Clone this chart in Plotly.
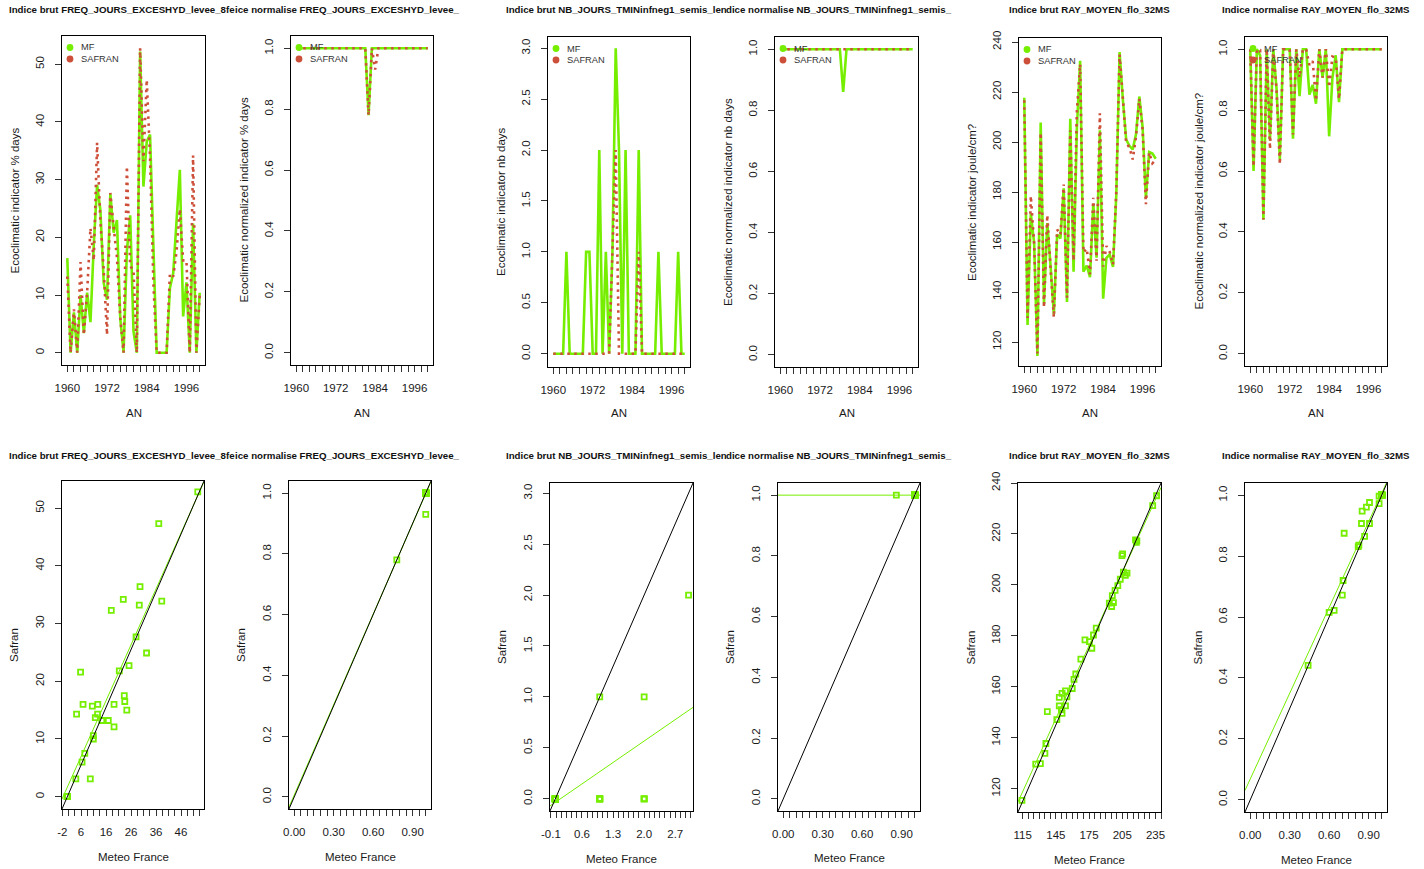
import numpy as np
import plotly.graph_objects as go

W, H = 1424, 869
FONT = "Liberation Sans, Arial, sans-serif"
GREEN = "#76EE00"
RED = "#CD4F39"
INK = "#1a1a1a"

years = list(range(1960, 2001))

freq_mf = [16.4, 0, 7.0, 0, 10.0, 3.4, 10.4, 5.3, 18.7, 29.1,
           24.7, 12.1, 9.2, 27.5, 20.8, 23.0, 5.9, 0, 17.6, 23.8,
           3.7, 0, 52.2, 28.8, 36.6, 37.8, 18.7, 0, 0, 0,
           0, 11.2, 13.8, 22.8, 31.7, 6.3, 12.2, 0, 22.4, 0, 10.4]
freq_safran = [13.2, 0, 7.5, 0, 15.7, 3.1, 10.6, 21.6, 16.0, 36.4,
               22.7, 14.3, 3.1, 27.7, 21.8, 16.5, 6.0, 0, 32.3, 15.0,
               14.3, 0, 52.8, 33.2, 47.3, 33.9, 12.1, 0, 0, 0,
               0, 13.7, 13.2, 17.5, 24.9, 16.0, 16.0, 0, 34.2, 0, 10.0]
freq_norm_mf = [1.0] * 22 + [0.78] + [1.0] * 18
freq_norm_safran = [1.0] * 22 + [0.78, 1.0, 0.93] + [1.0] * 16

nb_mf = [0, 0, 0, 0, 1, 0, 0, 0, 0, 0,
         1, 1, 0, 0, 2, 0, 1, 0, 1, 3,
         2, 0, 2, 0, 0, 0, 2, 0, 0, 0,
         0, 0, 1, 0, 0, 0, 0, 0, 1, 0, 0]
nb_safran = [0, 0, 0, 0, 0, 0, 0, 0, 0, 0,
             0, 0, 0, 0, 0, 0, 0, 0, 1, 2,
             0, 0, 0, 0, 0, 0, 1, 0, 0, 0,
             0, 0, 0, 0, 0, 0, 0, 0, 0, 0, 0]
nb_norm_mf = [1.0] * 19 + [0.86] + [1.0] * 21
nb_norm_safran = [1.0] * 41

ray_mf = [217.7, 126.8, 171.3, 159.8, 114.4, 207.8, 135.1, 167.6, 150.6, 131.0,
          163.0, 161.4, 181.5, 136.0, 209.3, 148.1, 205.3, 232.5, 148.1, 150.6,
          145.9, 175.3, 153.7, 204.7, 137.3, 153.7, 155.0, 150.0, 179.0, 236.0,
          217.0, 201.0, 198.5, 197.0, 203.2, 218.2, 206.0, 177.5, 196.0, 195.4, 193.3]
ray_safran = [216.7, 129.6, 178.4, 159.3, 115.4, 203.7, 133.8, 170.8, 149.5, 129.8,
              165.0, 162.9, 183.0, 137.7, 204.6, 152.5, 212.2, 231.1, 155.8, 157.4,
              147.1, 177.7, 152.5, 211.5, 150.2, 158.4, 156.0, 151.0, 180.3, 235.0,
              217.7, 199.7, 197.8, 193.0, 202.2, 217.3, 205.0, 175.1, 195.8, 191.5, 192.8]
ray_norm_mf = [1.0, 0.60, 1.0, 0.98, 0.44, 1.0, 0.70, 1.0, 0.87, 0.638,
               1.0, 1.0, 1.0, 0.706, 1.0, 0.846, 1.0, 1.0, 0.851, 0.883,
               0.821, 1.0, 0.907, 1.0, 0.714, 0.907, 0.98, 0.826] + [1.0] * 13
ray_norm_safran = [1.0, 0.615, 1.0, 0.997, 0.441, 1.0, 0.672, 1.0, 0.865, 0.622,
                   1.0, 1.0, 1.0, 0.72, 1.0, 0.907, 1.0, 1.0, 0.948, 0.961,
                   0.831, 1.0, 0.907, 1.0, 0.875, 0.976, 0.972, 0.836] + [1.0] * 13

boxes = {
    1: (62, 205, 36, 365), 2: (291, 433, 36, 365), 3: (548, 690, 37, 367),
    4: (775, 918, 37, 367), 5: (1019, 1161, 38, 366), 6: (1245, 1387, 37, 366),
    7: (62, 204, 481, 809), 8: (289, 431, 481, 809), 9: (550, 693, 483, 811),
    10: (778, 920, 483, 811), 11: (1018, 1161, 483, 812), 12: (1245, 1387, 483, 812),
}


def px(x):
    return x / W


def py(y):
    return 1 - y / H


def fmt_ticks(vals, nd):
    return [f"{v:.{nd}f}" for v in vals]


norm_ticks = [0, 0.2, 0.4, 0.6, 0.8, 1.0]
top = [
    dict(mf=freq_mf, sf=freq_safran, yr=[-2.13, 54.9], yt=[0, 10, 20, 30, 40, 50], nd=0,
         yt_title="Ecoclimatic indicator % days"),
    dict(mf=freq_norm_mf, sf=freq_norm_safran, yr=[-0.04, 1.04], yt=norm_ticks, nd=1,
         yt_title="Ecoclimatic normalized indicator % days"),
    dict(mf=nb_mf, sf=nb_safran, yr=[-0.13, 3.11], yt=[0, 0.5, 1, 1.5, 2, 2.5, 3], nd=1,
         yt_title="Ecoclimatic indicator nb days"),
    dict(mf=nb_norm_mf, sf=nb_norm_safran, yr=[-0.04, 1.04], yt=norm_ticks, nd=1,
         yt_title="Ecoclimatic normalized indicator nb days"),
    dict(mf=ray_mf, sf=ray_safran, yr=[110.4, 241.6], yt=[120, 140, 160, 180, 200, 220, 240], nd=0,
         yt_title="Ecoclimatic indicator joule/cm?"),
    dict(mf=ray_norm_mf, sf=ray_norm_safran, yr=[-0.04, 1.04], yt=norm_ticks, nd=1,
         yt_title="Ecoclimatic normalized indicator joule/cm?"),
]

x_norm_vals = [0.05 * i for i in range(21)]
x_norm_txt = ["0.00" if i == 0 else "0.30" if i == 6 else "0.60" if i == 12 else "0.90" if i == 18 else ""
              for i in range(21)]
bottom = [
    dict(rng=[-2.13, 54.7], xv=[-2 + 2.5 * i for i in range(23)],
         xt=[{0: "-2", 3: "6", 7: "16", 11: "26", 15: "36", 19: "46"}.get(i, "") for i in range(23)],
         yt=[0, 10, 20, 30, 40, 50], nd=0),
    dict(rng=[-0.04, 1.04], xv=x_norm_vals, xt=x_norm_txt, yt=norm_ticks, nd=1),
    dict(rng=[-0.12, 3.1], xv=[-0.1 + 0.7 / 6 * i for i in range(28)],
         xt=[{0: "-0.1", 6: "0.6", 12: "1.3", 18: "2.0", 24: "2.7"}.get(i, "") for i in range(28)],
         yt=[0, 0.5, 1, 1.5, 2, 2.5, 3], nd=1),
    dict(rng=[-0.04, 1.04], xv=x_norm_vals, xt=x_norm_txt, yt=norm_ticks, nd=1),
    dict(rng=[110.8, 240.0], xv=list(range(115, 241, 5)),
         xt=[str(v) if v in (115, 145, 175, 205, 235) else "" for v in range(115, 241, 5)],
         yt=[120, 140, 160, 180, 200, 220, 240], nd=0),
    dict(rng=[-0.04, 1.04], xv=x_norm_vals, xt=x_norm_txt, yt=norm_ticks, nd=1),
]

fig = go.Figure()
layout = dict(width=W, height=H, autosize=False,
              margin=dict(l=0, r=0, t=0, b=0, pad=0, autoexpand=False),
              paper_bgcolor="white", plot_bgcolor="white", showlegend=False,
              font=dict(family=FONT, color=INK))
annotations = []
shapes = []

axis_common = dict(showline=True, linecolor="#000", linewidth=1, mirror=True,
                   ticks="outside", ticklen=6, tickwidth=1, tickcolor="#333",
                   showgrid=False, zeroline=False, fixedrange=True, automargin=False,
                   tickfont=dict(family=FONT, size=11.5, color=INK),
                   ticklabelstandoff=6)


def add_axes(i, xr, xv, xt, yr, yv, ytxt):
    l, r, t, b = boxes[i]
    sx = "" if i == 1 else str(i)
    layout["xaxis" + sx] = dict(axis_common, domain=[px(l), px(r)], range=xr, anchor="y" + sx,
                                tickmode="array", tickvals=xv, ticktext=xt)
    layout["yaxis" + sx] = dict(axis_common, domain=[py(b), py(t)], range=yr, anchor="x" + sx,
                                tickmode="array", tickvals=yv, ticktext=ytxt, tickangle=-90)


year_ticks = list(range(1960, 2001, 2))
year_txt = [str(y) if (y - 1960) % 12 == 0 else "" for y in year_ticks]
for k, p in enumerate(top):
    i = k + 1
    sx = "" if i == 1 else str(i)
    add_axes(i, [1958.4, 2001.6], year_ticks, year_txt, p["yr"], p["yt"], fmt_ticks(p["yt"], p["nd"]))
    fig.add_trace(go.Scatter(x=years, y=p["mf"], mode="lines", name="MF",
                             line=dict(color=GREEN, width=2.6), xaxis="x" + sx, yaxis="y" + sx))
    fig.add_trace(go.Scatter(x=years, y=p["sf"], mode="lines", name="SAFRAN",
                             line=dict(color=RED, width=2.6, dash="2.5px,4.5px"),
                             xaxis="x" + sx, yaxis="y" + sx))
    l, r, t, b = boxes[i]
    for j, (lab, col) in enumerate([("MF", GREEN), ("SAFRAN", RED)]):
        cx, cy = l + 8, t + 11.5 + 11.5 * j
        rad = 3.4
        shapes.append(dict(type="circle", xref="paper", yref="paper",
                           x0=px(cx - rad), x1=px(cx + rad), y0=py(cy + rad), y1=py(cy - rad),
                           fillcolor=col, line=dict(color=col, width=0)))
        annotations.append(dict(x=px(l + 16.5), y=py(cy), xref="paper", yref="paper",
                                text=lab, showarrow=False, xanchor="left", yanchor="middle",
                                font=dict(family=FONT, size=9.3, color="#333")))
    annotations.append(dict(x=px((l + r) / 2), y=py(413.3), xref="paper", yref="paper", text="AN",
                            showarrow=False, xanchor="center", yanchor="middle",
                            font=dict(family=FONT, size=11.5, color=INK)))
    annotations.append(dict(x=px(l - 47), y=py((t + b) / 2), xref="paper", yref="paper",
                            text=p["yt_title"], showarrow=False, textangle=-90,
                            xanchor="center", yanchor="middle",
                            font=dict(family=FONT, size=11.5, color=INK)))

pairs = [(freq_mf, freq_safran), (freq_norm_mf, freq_norm_safran), (nb_mf, nb_safran),
         (nb_norm_mf, nb_norm_safran), (ray_mf, ray_safran), (ray_norm_mf, ray_norm_safran)]
xt_y = {7: 856.7, 8: 856.7, 9: 859.3, 10: 858.3, 11: 860, 12: 860}
for k, (p, (mf, sf)) in enumerate(zip(bottom, pairs)):
    i = k + 7
    sx = str(i)
    add_axes(i, p["rng"], p["xv"], p["xt"], p["rng"], p["yt"], fmt_ticks(p["yt"], p["nd"]))
    fig.add_trace(go.Scatter(x=mf, y=sf, mode="markers",
                             marker=dict(symbol="square-open", size=5, color=GREEN,
                                         line=dict(color=GREEN, width=1.8)),
                             xaxis="x" + sx, yaxis="y" + sx))
    slope, icpt = np.polyfit(np.array(mf, float), np.array(sf, float), 1)
    xr = np.array(p["rng"])
    fig.add_trace(go.Scatter(x=xr, y=icpt + slope * xr, mode="lines",
                             line=dict(color=GREEN, width=1), xaxis="x" + sx, yaxis="y" + sx))
    fig.add_trace(go.Scatter(x=xr, y=xr, mode="lines",
                             line=dict(color="#000", width=1), xaxis="x" + sx, yaxis="y" + sx))
    l, r, t, b = boxes[i]
    annotations.append(dict(x=px((l + r) / 2), y=py(xt_y[i]), xref="paper", yref="paper",
                            text="Meteo France", showarrow=False, xanchor="center", yanchor="middle",
                            font=dict(family=FONT, size=11.5, color=INK)))
    annotations.append(dict(x=px(l - 48), y=py((t + b) / 2), xref="paper", yref="paper",
                            text="Safran", showarrow=False, textangle=-90,
                            xanchor="center", yanchor="middle",
                            font=dict(family=FONT, size=11.5, color=INK)))

title_font = dict(family=FONT, size=9.7, color="#111")
for ty in (9.5, 455):
    for txt, x, anchor in [
        ("Indice brut FREQ_JOURS_EXCESHYD_levee_8fe", 6.5, "left"),
        ("ice normalise FREQ_JOURS_EXCESHYD_levee_", 233, "left"),
        ("Indice brut NB_JOURS_TMINinfneg1_semis_len", 503.5, "left"),
        ("dice normalise NB_JOURS_TMINinfneg1_semis_", 724.5, "left"),
        ("Indice brut RAY_MOYEN_flo_32MS", 1089, "center"),
        ("Indice normalise RAY_MOYEN_flo_32MS", 1315.5, "center"),
    ]:
        annotations.append(dict(x=px(x), y=py(ty), xref="paper", yref="paper",
                                text="<b>" + txt + "</b>", showarrow=False,
                                xanchor=anchor, yanchor="middle", font=title_font))

layout["annotations"] = annotations
layout["shapes"] = shapes
fig.update_layout(**layout)
fig.write_html("out.html", config={"displayModeBar": False},
               post_script="document.body.style.margin='0';document.body.style.padding='0';"
                           "document.documentElement.style.overflow='hidden';")
